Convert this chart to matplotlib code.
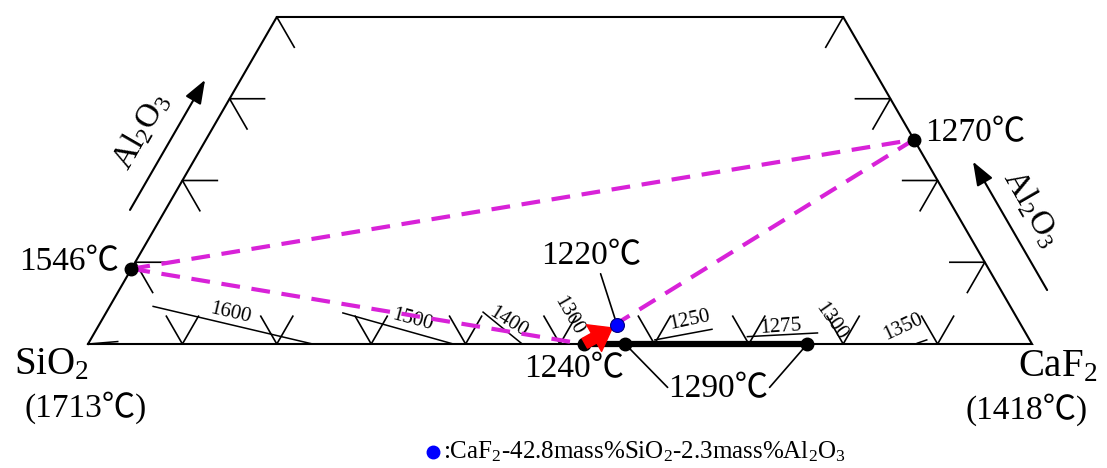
import numpy as np
import matplotlib.pyplot as plt
from matplotlib.patches import FancyArrowPatch

plt.rcParams['font.family'] = ['Liberation Serif', 'Noto Sans CJK SC', 'DejaVu Serif']
plt.rcParams['mathtext.fontset'] = 'custom'
plt.rcParams['mathtext.rm'] = 'Liberation Serif'
plt.rcParams['mathtext.it'] = 'Liberation Serif:italic'

# compositions in mass% given as (CaF2, Al2O3); SiO2 is the balance
al_top = 40
side_ticks = [10, 20, 30]
base_ticks = [10, 20, 30, 40, 50, 60, 70, 80, 90]

# invariant points on the edges
pt_names = ['1546℃', '1270℃', '1240℃']
pt_caf2 = [0.0, 75.0, 52.5]
pt_al2o3 = [9.2, 25.0, 0.0]

# 1290 ℃ segment on the CaF2-SiO2 join
seg_caf2 = [56.9, 76.2]
seg_al2o3 = [0.0, 0.0]

# slag composition
slag_sio2 = 42.8
slag_al2o3 = 2.3
slag_caf2 = 100 - slag_sio2 - slag_al2o3
slag_temp = '1220℃'

# isotherm segments near the CaF2-SiO2 join
iso_caf2_a = [0.0, 4.6, 25.1, 39.9, 59.8, 69.4, 87.8]
iso_al2o3_a = [0.0, 4.6, 3.8, 3.9, 0.5, 0.9, 0.1]
iso_caf2_b = [3.0, 23.8, 38.7, 46.0, 65.2, 76.6, 88.6]
iso_al2o3_b = [0.3, 0.0, 0.0, 0.0, 1.8, 1.35, 0.5]

iso_labels = ['1600', '1500', '1400', '1300', '1250', '1275', '1300', '1350']
iso_lab_caf2 = [13.2, 32.9, 43.2, 49.2, 62.3, 72.3, 77.3, 85.3]
iso_lab_al2o3 = [3.8, 2.9, 2.7, 3.5, 2.9, 2.1, 2.7, 2.1]
iso_lab_rot = [-13, -15, -32, -60, 12, 4, -55, 25]


def tern(caf2, al2o3):
    caf2 = np.asarray(caf2, dtype=float)
    al2o3 = np.asarray(al2o3, dtype=float)
    return caf2 + al2o3 / 2, al2o3 * np.sqrt(3) / 2


px = 9.44  # pixels per mass%
fig = plt.figure(figsize=(11.07, 4.68), dpi=100)
ax = fig.add_axes([0, 0, 1, 1])
ax.set_xlim(-88 / px, (1107 - 88) / px)
ax.set_ylim(-(468 - 344) / px, 344 / px)
ax.axis('off')

# outline of the truncated triangle
ox, oy = tern([0, 100, 100 - al_top, 0, 0], [0, 0, al_top, al_top, 0])
ax.plot(ox, oy, color='k', lw=1.5, solid_joinstyle='miter', zorder=2)

# grid ticks
L = 3.7
tk = dict(color='k', lw=1.2, zorder=2)
for a in side_ticks:
    x, y = tern([L, 0, L], [a, a, a - L])
    ax.plot(x, y, **tk)
    x, y = tern([100 - a - L, 100 - a, 100 - a], [a, a, a - L])
    ax.plot(x, y, **tk)
x, y = tern([0, L], [al_top, al_top - L])
ax.plot(x, y, **tk)
x, y = tern([100 - al_top, 100 - al_top], [al_top, al_top - L])
ax.plot(x, y, **tk)
Lb = 3.4
for c in base_ticks:
    x, y = tern([c - Lb, c, c], [Lb, 0, Lb])
    ax.plot(x, y, **tk)

# isotherms
for i in range(len(iso_caf2_a)):
    x, y = tern([iso_caf2_a[i], iso_caf2_b[i]], [iso_al2o3_a[i], iso_al2o3_b[i]])
    ax.plot(x, y, color='k', lw=1.1, zorder=2)
for lab, c, a, r in zip(iso_labels, iso_lab_caf2, iso_lab_al2o3, iso_lab_rot):
    x, y = tern(c, a)
    ax.text(x, y, lab, fontsize=15, rotation=r, ha='center', va='center',
            rotation_mode='anchor', zorder=3)

# liquidus valleys between the invariant points
vx, vy = tern(pt_caf2, pt_al2o3)
dash = dict(color='#d822d8', lw=3, ls=(0, (4.5, 2.8)), zorder=3)
ax.plot([vx[0], vx[1]], [vy[0], vy[1]], **dash)
ax.plot([vx[0], vx[2]], [vy[0], vy[2]], **dash)
ax.plot([vx[1], vx[2]], [vy[1], vy[2]], **dash)

# 1290 segment
sx, sy = tern(seg_caf2, seg_al2o3)
ax.plot([vx[2], sx[1]], [vy[2], sy[1]], color='k', lw=4.5, solid_capstyle='butt', zorder=4)
ax.plot(sx, sy, 'o', color='k', ms=9, zorder=5)
ax.plot(vx, vy, 'o', color='k', ms=9, zorder=5)

# slag point and the path to it
bx, by = tern(slag_caf2, slag_al2o3)
ax.add_patch(FancyArrowPatch((vx[2], vy[2]), (bx, by),
                             arrowstyle='simple,head_length=0.75,head_width=1.1,tail_width=0.4',
                             mutation_scale=20, color='#ff0000', shrinkA=1, shrinkB=4, zorder=5))
ax.plot(bx, by, 'o', color='#0000ff', mec='#000080', mew=0.8, ms=10, zorder=6)

big = 24
ax.annotate(pt_names[0], (vx[0], vy[0]), xytext=(-9, 5), textcoords='offset points',
            ha='right', va='center', fontsize=big)
ax.annotate(pt_names[1], (vx[1], vy[1]), xytext=(8, 5), textcoords='offset points',
            ha='left', va='center', fontsize=big)
ax.annotate(pt_names[2], (vx[2], vy[2]), xytext=(-6.5, -18), textcoords='offset points',
            ha='center', va='center', fontsize=big)
ax.annotate(slag_temp, (bx, by), xytext=(-19, 50), textcoords='offset points',
            ha='center', va='center', fontsize=big,
            arrowprops=dict(arrowstyle='-', lw=1.2, color='k', relpos=(0.58, 0.1),
                            shrinkA=0, shrinkB=5))

lx, ly = 66.8, -4.8
ax.text(lx, ly, '1290℃', ha='center', va='center', fontsize=big)
for xe, xs, ys in [(lx - 5.4, sx[0], sy[0]), (lx + 5.4, sx[1], sy[1])]:
    ax.annotate('', (xs, ys), xytext=(xe, ly + 0.2),
                arrowprops=dict(arrowstyle='-', lw=1.2, color='k', shrinkA=0, shrinkB=4))

# corner labels
ax.text(-3.9, -2.2, 'SiO$_2$', ha='center', va='center', fontsize=28)
ax.text(-0.2, -6.7, '(1713℃)', ha='center', va='center', fontsize=big)
ax.text(102.7, -2.4, 'CaF$_2$', ha='center', va='center', fontsize=28)
ax.text(99.4, -7.0, '(1418℃)', ha='center', va='center', fontsize=big)

# Al2O3 direction arrows along the side joins
arr = dict(arrowstyle='-|>,head_length=0.8,head_width=0.3', lw=1.5, color='k',
           mutation_scale=18, shrinkA=0, shrinkB=0)
ax.annotate('', tern(-3.75, 32.3), xytext=tern(-3.75, 16.4), arrowprops=arr)
ax.annotate('', tern(104.9 - 22.3, 22.3), xytext=tern(104.9 - 6.6, 6.6), arrowprops=arr)
ax.text(5.6, 22.6, 'Al$_2$O$_3$', rotation=60, ha='center', va='center', fontsize=big)
ax.text(100.0, 14.4, 'Al$_2$O$_3$', rotation=-60, ha='center', va='center', fontsize=big)

# key for the slag point
ax.plot(36.55, -11.45, 'o', color='#0000ff', ms=9)
ax.text(37.6, -11.45,
        ':CaF$_2$-{}mass%SiO$_2$-{}mass%Al$_2$O$_3$'.format(slag_sio2, slag_al2o3),
        ha='left', va='center', fontsize=18)

fig.savefig('out.png', dpi=100)
